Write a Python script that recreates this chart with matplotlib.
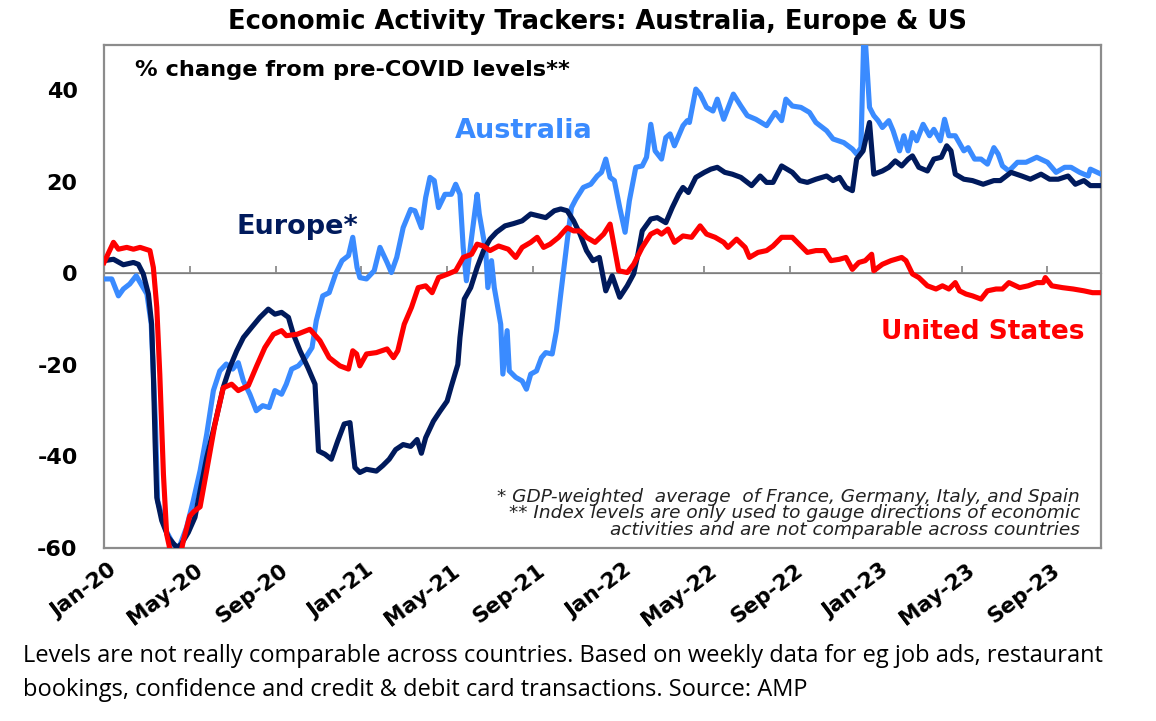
"""Economic activity trackers: Australia, Europe & US."""

import matplotlib
matplotlib.use("Agg")
import matplotlib.pyplot as plt
from matplotlib.transforms import ScaledTranslation

# months since Jan-2020 and % change from pre-COVID levels
au_month = [0, 0.36, 0.67, 0.9, 1.2, 1.5, 2.0, 2.2, 2.4, 2.5, 2.9, 3.23, 3.5, 3.85, 4.16, 4.48, 4.79,
            5.1, 5.4, 5.7, 6.0, 6.26, 6.5, 6.8, 7.1, 7.4, 7.7, 7.97, 8.28, 8.5, 8.75, 9.06, 9.4, 9.7,
            9.9, 10.2, 10.5, 10.8, 11.1, 11.4, 11.6, 11.8, 11.93, 12.24, 12.6, 12.87, 13.2, 13.4,
            13.65, 13.95, 14.3, 14.5, 14.8, 15.0, 15.2, 15.4, 15.6, 15.9, 16.2, 16.4, 16.6, 16.75,
            16.9, 17.1, 17.4, 17.5, 17.8, 17.9, 18.07, 18.2, 18.5, 18.6, 18.8, 18.9, 19.2, 19.5,
            19.7, 19.9, 20.17, 20.4, 20.6, 20.9, 21.1, 21.3, 21.6, 21.8, 22.0, 22.35, 22.7, 23.0,
            23.2, 23.4, 23.6, 23.8, 24.05, 24.3, 24.5, 24.8, 25.1, 25.3, 25.5, 25.7, 26.0, 26.2,
            26.4, 26.6, 27.0, 27.2, 27.3, 27.6, 27.8, 28.1, 28.4, 28.6, 28.9, 29.2, 29.35, 29.7,
            30.0, 30.4, 30.9, 31.3, 31.6, 31.8, 32.1, 32.5, 32.9, 33.2, 33.7, 34.0, 34.5, 34.9,
            35.1, 35.3, 35.45, 35.7, 35.9, 36.1, 36.3, 36.6, 36.8, 37.1, 37.3, 37.5, 37.7, 37.9,
            38.2, 38.5, 38.7, 39.0, 39.2, 39.4, 39.7, 40.1, 40.3, 40.6, 40.9, 41.2, 41.5, 41.7,
            41.9, 42.2, 42.6, 43.0, 43.5, 44.0, 44.4, 44.8, 45.1, 45.5, 45.9, 46.0, 46.5]
au_value = [-1.2, -1.2, -4.9, -3.4, -2.3, -0.5, -4.5, -11, -33, -49.7, -56.3, -59.2, -59.9, -55.5,
            -49.7, -43.1, -35.1, -25.6, -21.3, -19.8, -20.9, -19.5, -23.5, -26.4, -30, -28.9,
            -29.3, -25.6, -26.4, -24.2, -20.9, -20.2, -18.4, -16.2, -10.3, -4.9, -4.2, -0.1, 2.8,
            3.9, 7.9, 1.3, -0.9, -1.2, 0.6, 5.7, 2.4, 0.2, 3.5, 10, 14, 13.7, 10, 16.6, 21, 20.3,
            14.4, 17.3, 17.3, 19.5, 17.3, 5.7, -1.6, 6.4, 17.3, 13, 5, -3.1, 2.8, -3.1, -11.1,
            -22, -12.5, -21.3, -22.7, -23.5, -25.3, -22, -21.3, -18.4, -17.3, -17.6, -12.5, -4.5,
            7.1, 14.4, 16.2, 18.8, 19.5, 21.3, 22.1, 25, 21, 20.3, 14.4, 9, 15.9, 23.2, 23.5,
            25.4, 32.6, 26.8, 25, 29.7, 30.5, 27.9, 32.3, 33.4, 33, 40.3, 39.2, 36.3, 35.5, 38.1,
            33.7, 37.4, 39.2, 36.6, 34.5, 33.7, 32.3, 35.2, 33.4, 38.1, 36.6, 36.3, 35.2, 33,
            31.2, 29.4, 28.6, 27.2, 26.1, 27.5, 55, 36.3, 34.5, 33.4, 31.9, 33.4, 31.2, 26.8,
            30.1, 26.8, 30.8, 29, 32.6, 30.1, 31.5, 29, 33.7, 30.1, 30.1, 26.8, 27.5, 25, 25,
            23.9, 27.5, 26.1, 23.5, 22.4, 24.3, 24.3, 25.4, 24.3, 22.1, 23.2, 23.2, 22.1, 21.3,
            22.8, 21.7]

eu_month = [0, 0.44, 0.9, 1.37, 1.6, 1.83, 2.07, 2.22, 2.3, 2.38, 2.46, 2.69, 3.0, 3.39, 3.6,
            3.93, 4.24, 4.48, 4.79, 5.17, 5.56, 5.87, 6.19, 6.5, 6.88, 7.27, 7.66, 7.97, 8.28,
            8.6, 8.83, 9.14, 9.5, 9.84, 10.0, 10.3, 10.6, 10.9, 11.2, 11.47, 11.7, 11.93, 12.24,
            12.7, 13.0, 13.3, 13.6, 13.95, 14.3, 14.6, 14.8, 15.0, 15.36, 15.67, 16.0, 16.2,
            16.5, 16.6, 16.8, 17.1, 17.4, 17.7, 18.0, 18.3, 18.7, 19.1, 19.5, 19.9, 20.25, 20.6,
            21.0, 21.3, 21.6, 21.9, 22.2, 22.5, 22.8, 23.1, 23.4, 23.7, 24.05, 24.4, 24.7, 24.9,
            25.1, 25.5, 25.8, 26.2, 26.5, 26.8, 27.0, 27.25, 27.6, 28.0, 28.3, 28.6, 28.95,
            29.3, 29.7, 30.2, 30.6, 30.9, 31.2, 31.6, 32.1, 32.45, 32.8, 33.2, 33.7, 34.0, 34.3,
            34.6, 34.9, 35.1, 35.4, 35.7, 35.9, 36.3, 36.6, 36.9, 37.2, 37.5, 37.7, 38.0, 38.4,
            38.7, 39.05, 39.3, 39.5, 39.7, 40.1, 40.5, 41.0, 41.5, 41.8, 42.3, 42.8, 43.2, 43.7,
            44.1, 44.5, 44.96, 45.3, 45.7, 46.0, 46.5]
eu_value = [2.8, 3.1, 1.9, 2.4, 2.0, -0.1, -4.5, -11.1, -22, -36.6, -49, -54, -57.7, -59.9,
            -59.2, -56.6, -53.3, -47.5, -40.2, -32.9, -24.9, -20.5, -16.9, -14.0, -11.8, -9.6,
            -7.8, -8.9, -8.5, -9.6, -13.3, -16.9, -20.5, -24.2, -38.8, -39.5, -40.6, -36.6,
            -32.9, -32.6, -42.4, -43.5, -42.8, -43.2, -42.0, -40.6, -38.5, -37.4, -37.8, -36.3,
            -39.3, -35.9, -32.3, -30.1, -27.9, -24.6, -19.9, -14.0, -5.6, -3.1, 1.3, 5.0, 7.5,
            9.0, 10.4, 10.9, 11.5, 13.0, 12.6, 12.2, 13.7, 14.1, 13.7, 11.5, 8.6, 5.0, 2.8, 3.5,
            -3.8, -0.5, -5.2, -2.7, -0.1, 4.2, 9.3, 11.9, 12.2, 11.1, 14.4, 17.3, 18.8, 17.7,
            21.0, 22.1, 22.8, 23.2, 22.1, 21.7, 21.0, 19.2, 21.3, 19.9, 19.9, 23.5, 22.1, 20.3,
            19.9, 20.6, 21.3, 20.3, 21.0, 18.8, 18.1, 25.0, 26.8, 33.0, 21.7, 22.4, 23.2, 24.6,
            23.5, 25.0, 25.7, 23.2, 22.4, 25.0, 25.4, 27.9, 26.8, 21.7, 20.6, 20.3, 19.5, 20.3,
            20.3, 22.1, 21.3, 20.6, 21.7, 20.6, 20.6, 21.3, 19.5, 20.3, 19.2, 19.2]

us_month = [0, 0.44, 0.67, 1.06, 1.37, 1.68, 2.14, 2.3, 2.46, 2.6, 2.77, 2.92, 3.2, 3.5, 3.7, 4.0,
            4.2, 4.48, 4.79, 5.17, 5.56, 5.95, 6.26, 6.73, 7.12, 7.5, 7.9, 8.28, 8.5, 9.0, 9.6,
            10.07, 10.5, 11.0, 11.4, 11.6, 11.78, 11.93, 12.24, 12.7, 13.2, 13.5, 13.7, 14.0,
            14.34, 14.65, 15.0, 15.3, 15.6, 16.05, 16.4, 16.75, 17.14, 17.4, 17.7, 18.0, 18.4,
            18.85, 19.2, 19.5, 19.9, 20.2, 20.5, 20.8, 21.2, 21.6, 21.9, 22.2, 22.5, 22.9, 23.3,
            23.6, 24.0, 24.4, 24.7, 25.1, 25.5, 25.8, 26.0, 26.3, 26.6, 27.0, 27.4, 27.8, 28.1,
            28.5, 28.9, 29.1, 29.5, 29.9, 30.1, 30.5, 30.9, 31.2, 31.6, 32.1, 32.5, 32.8, 33.2,
            33.6, 33.9, 34.3, 34.6, 34.9, 35.2, 35.5, 35.8, 35.9, 36.3, 36.7, 37.2, 37.4, 37.7,
            38.0, 38.4, 38.8, 39.1, 39.4, 39.7, 39.9, 40.2, 40.5, 40.9, 41.2, 41.6, 41.9, 42.2,
            42.7, 43.1, 43.5, 43.8, 43.9, 44.2, 44.7, 45.2, 45.7, 46.1, 46.5]
us_value = [2.4, 6.8, 5.3, 5.7, 5.3, 5.7, 5.0, 1.3, -7.4, -22, -43.9, -57, -63, -63, -58.4, -53,
            -52, -51, -43, -33, -25, -24.2, -25.6, -24.5, -20.2, -16.2, -13.3, -12.5, -13.6,
            -13.3, -12.2, -14.7, -18.4, -20.2, -20.9, -16.9, -17.6, -20.2, -17.6, -17.3, -16.5,
            -18.4, -16.9, -11.1, -7.4, -3.1, -2.7, -4.2, -0.9, -0.1, 0.6, 3.5, 4.2, 6.4, 6.0,
            5.0, 6.0, 5.3, 3.5, 5.7, 6.8, 7.9, 5.7, 6.4, 7.9, 10.0, 9.3, 9.3, 7.9, 6.8, 8.6,
            10.8, 0.6, 0.2, 2.0, 5.7, 8.6, 9.3, 8.6, 9.7, 6.8, 8.2, 7.9, 10.4, 8.6, 7.9, 6.8,
            5.7, 7.5, 5.7, 3.5, 4.6, 5.0, 6.0, 7.9, 7.9, 6.0, 4.6, 5.0, 5.0, 2.8, 3.1, 3.5, 0.9,
            2.4, 2.8, 4.2, 0.6, 2.0, 2.8, 3.5, 2.8, -0.1, -0.9, -2.7, -3.4, -2.7, -3.4, -2.0,
            -3.8, -4.5, -4.9, -5.6, -3.8, -3.4, -3.4, -2.0, -3.1, -2.7, -2.0, -2.0, -0.9, -2.7,
            -3.1, -3.4, -3.8, -4.2, -4.2]

tick_months = [0, 4, 8, 12, 16, 20, 24, 28, 32, 36, 40, 44]
tick_labels = ["Jan-20", "May-20", "Sep-20", "Jan-21", "May-21", "Sep-21",
               "Jan-22", "May-22", "Sep-22", "Jan-23", "May-23", "Sep-23"]
y_ticks = [-60, -40, -20, 0, 20, 40]

AU_COLOR = "#3a8bff"
EU_COLOR = "#001a5c"
US_COLOR = "#ff0000"
GRID_GRAY = "#8c8c8c"

assert len(au_month) == len(au_value)
assert len(eu_month) == len(eu_value)
assert len(us_month) == len(us_value)

plt.rcParams["font.family"] = ["DejaVu Sans"]

fig = plt.figure(figsize=(11.56, 7.21), dpi=100)
ax = fig.add_axes([0.09, 0.24, 0.8625, 0.698])

ax.plot(au_month, au_value, color=AU_COLOR, lw=3.7, solid_joinstyle="round", zorder=3)
ax.plot(eu_month, eu_value, color=EU_COLOR, lw=3.7, solid_joinstyle="round", zorder=4)
ax.plot(us_month, us_value, color=US_COLOR, lw=3.7, solid_joinstyle="round", zorder=5)

ymin, ymax = -60, 50
ax.set_xlim(0, 46.5)
ax.set_ylim(ymin, ymax)
ax.axhline(0, color=GRID_GRAY, lw=1.3, zorder=2)

ax.set_yticks(y_ticks)
ax.set_yticklabels([str(v) for v in y_ticks], fontsize=16, fontweight="bold")
ax.tick_params(axis="y", length=0, pad=19)

ax.set_xticks(tick_months)
ax.set_xticklabels(tick_labels, rotation=37, ha="right", rotation_mode="anchor",
                   fontsize=15.5, fontweight="bold")
ax.tick_params(axis="x", length=0, pad=9)
shift = ScaledTranslation(3 / 72, 0, fig.dpi_scale_trans)
for lbl in ax.get_xticklabels():
    lbl.set_transform(lbl.get_transform() + shift)

# tick marks hang from the zero line
zero_pos = (0 - ymin) / (ymax - ymin)
sec = ax.secondary_xaxis(zero_pos)
sec.set_xticks(tick_months)
sec.set_xticklabels([])
sec.tick_params(axis="x", direction="out", length=5, width=1.3, color=GRID_GRAY)
sec.spines["bottom"].set_visible(False)

for side in ["left", "right", "top", "bottom"]:
    ax.spines[side].set_color(GRID_GRAY)
    ax.spines[side].set_linewidth(1.6)

fig.text(0.517, 0.969, "Economic Activity Trackers: Australia, Europe & US",
         ha="center", va="center", fontsize=18.5, fontweight="bold")
ax.text(0.031, 0.95, "% change from pre-COVID levels**", transform=ax.transAxes,
        ha="left", va="center", fontsize=16.2, fontweight="bold")

ax.text(0.352, 0.828, "Australia", transform=ax.transAxes, color=AU_COLOR,
        ha="left", va="center", fontsize=19.5, fontweight="bold")
ax.text(0.133, 0.638, "Europe*", transform=ax.transAxes, color=EU_COLOR,
        ha="left", va="center", fontsize=19.5, fontweight="bold")
ax.text(0.779, 0.429, "United States", transform=ax.transAxes, color=US_COLOR,
        ha="left", va="center", fontsize=19, fontweight="bold")

foot = ("* GDP-weighted  average  of France, Germany, Italy, and Spain\n"
        "** Index levels are only used to gauge directions of economic\n"
        "activities and are not comparable across countries")
ax.text(0.979, 0.018, foot, transform=ax.transAxes, ha="right", va="bottom",
        fontsize=13.3, style="italic", color="#222222", linespacing=0.9)

caption = ("Levels are not really comparable across countries. Based on weekly data for eg job ads, restaurant\n"
           "bookings, confidence and credit & debit card transactions. Source: AMP")
fig.text(0.02, 0.066, caption, ha="left", va="center", fontsize=17,
         family=["Open Sans", "DejaVu Sans"], linespacing=1.55)

fig.savefig("out.png", dpi=100)
